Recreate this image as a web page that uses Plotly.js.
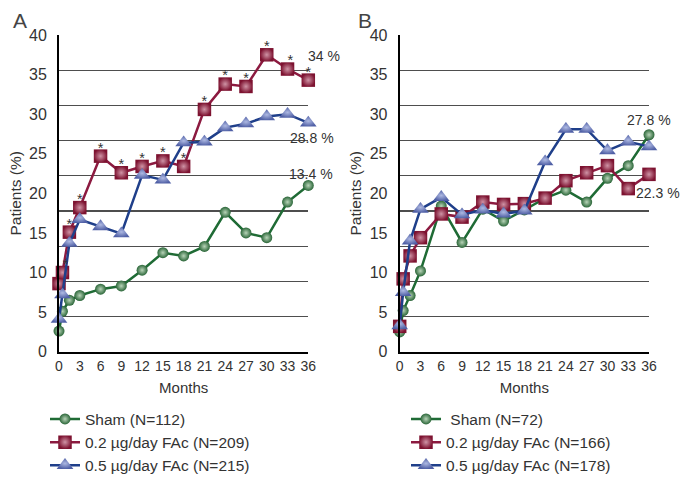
<!DOCTYPE html>
<html>
<head>
<meta charset="utf-8">
<script src="https://cdn.plot.ly/plotly-3.0.1.min.js"></script>
<style>html,body{margin:0;padding:0;background:#fff;}#chart{width:686px;height:477px;}</style>
</head>
<body>
<div id="chart"></div>
<script>
// Months (visits)
const months = [0, 0.5, 1.5, 3, 6, 9, 12, 15, 18, 21, 24, 27, 30, 33, 36];
const monthTicks = [0, 3, 6, 9, 12, 15, 18, 21, 24, 27, 30, 33, 36];

// Panel A
const shamA = [2.6, 5.1, 6.5, 7.1, 7.9, 8.3, 10.3, 12.5, 12.1, 13.3, 17.6, 15.0, 14.4, 18.9, 21.0];
const low02A = [8.6, 10.0, 15.1, 18.2, 24.7, 22.6, 23.4, 24.1, 23.4, 30.6, 33.8, 33.5, 37.5, 35.7, 34.3];
const high05A = [4.1, 7.2, 13.7, 16.7, 15.8, 14.9, 22.3, 21.7, 26.4, 26.5, 28.3, 28.8, 29.7, 30.0, 28.9];
const starsA = ['', '*', '*', '*', '*', '*', '*', '*', '*', '*', '*', '*', '*', '*', '*'];

// Panel B
const shamB = [2.5, 5.2, 7.1, 10.2, 18.4, 13.8, 18.0, 16.5, 17.9, 19.4, 20.4, 18.9, 21.9, 23.5, 27.4];
const low02B = [3.2, 9.2, 12.1, 14.4, 17.4, 17.0, 18.9, 18.6, 18.7, 19.4, 21.6, 22.6, 23.5, 20.6, 22.4];
const high05B = [3.3, 7.5, 14.0, 18.0, 19.5, 17.3, 17.9, 17.4, 17.8, 24.0, 28.1, 28.1, 25.4, 26.5, 25.9];

const namesA = ['Sham (N=112)', '0.2 \u00b5g/day FAc (N=209)', '0.5 \u00b5g/day FAc (N=215)'];
const namesB = ['\u00a0Sham (N=72)', '0.2 \u00b5g/day FAc (N=166)', '0.5 \u00b5g/day FAc (N=178)'];

const FONT = 'Liberation Sans, Arial, sans-serif';
const TXT = '#333333';

const sGreen = {line: {color: '#1f6b35', width: 2.5},
  marker: {symbol: 'circle', size: 11, color: '#2a6638', gradient: {type: 'radial', color: '#b8d4b8'}, line: {width: 0}}};
const sRed = {line: {color: '#8c1a40', width: 2.5},
  marker: {symbol: 'square', size: 13.5, color: '#7d1230', gradient: {type: 'radial', color: '#cf93a5'}, line: {width: 0}}};
const sBlue = {line: {color: '#1f3f8a', width: 2.5},
  marker: {symbol: 'triangle-up', size: 14.5, color: '#5060a6', gradient: {type: 'radial', color: '#aeb9e2'}, line: {width: 0}}};

function tr(x, y, name, st, xa, ya, leg) {
  return {type: 'scatter', mode: 'lines+markers', x: x, y: y, name: name,
    line: st.line, marker: st.marker, xaxis: xa, yaxis: ya, legend: leg, cliponaxis: false, hoverinfo: 'x+y'};
}

const data = [
  {type: 'scatter', x: [], y: [], xaxis: 'x', yaxis: 'y2', showlegend: false, hoverinfo: 'skip'},
  {type: 'scatter', x: [], y: [], xaxis: 'x2', yaxis: 'y4', showlegend: false, hoverinfo: 'skip'},
  tr(months, shamA, namesA[0], sGreen, 'x', 'y', 'legend'),
  tr(months, low02A, namesA[1], sRed, 'x', 'y', 'legend'),
  tr(months, high05A, namesA[2], sBlue, 'x', 'y', 'legend'),
  {type: 'scatter', mode: 'text', x: months, y: low02A, text: starsA, xaxis: 'x', yaxis: 'y',
    textposition: ['top center', 'top right', 'top center', 'top center', 'top center', 'top center', 'top center',
      'top center', 'top center', 'top center', 'top center', 'top center', 'top center', 'top right', 'top center'],
    textfont: {family: FONT, size: 14.5, color: TXT}, showlegend: false, cliponaxis: false, hoverinfo: 'skip'},
  tr(months, shamB, namesB[0], sGreen, 'x2', 'y3', 'legend2'),
  tr(months, low02B, namesB[1], sRed, 'x2', 'y3', 'legend2'),
  tr(months, high05B, namesB[2], sBlue, 'x2', 'y3', 'legend2')
];

const H = 477, W = 686;
const yDom = [1 - 351.7 / H, 1 - 35 / H];
const xDomA = [59 / W, 308.3 / W];
const xDomB = [399.7 / W, 649 / W];

const xBase = {range: [0, 36], tickvals: monthTicks, ticktext: monthTicks.map(String), showgrid: false, zeroline: false,
  showline: true, linecolor: '#000', linewidth: 2, ticks: '', tickfont: {family: FONT, size: 14, color: TXT},
  title: {text: 'Months', font: {family: FONT, size: 15, color: TXT}, standoff: 10}};
const yBase = {range: [0, 40], dtick: 5, showgrid: false, zeroline: false, showline: true, linecolor: '#000', linewidth: 2,
  ticks: '', ticklabelstandoff: 7, tickfont: {family: FONT, size: 16, color: TXT}, domain: yDom,
  title: {text: 'Patients (%)', font: {family: FONT, size: 15.5, color: TXT}, standoff: 4}};
const yGrid = {range: [0, 45], dtick: 5, showgrid: true, gridcolor: '#4e4e4e', gridwidth: 1.2, zeroline: false,
  showticklabels: false, showline: false, ticks: '', domain: yDom};

const annFont = {family: FONT, size: 14, color: TXT};
const legTop = 1 - 402.4 / H;
const layout = {
  width: W, height: H, margin: {l: 0, r: 0, t: 0, b: 0, autoexpand: false},
  paper_bgcolor: '#fff', plot_bgcolor: 'rgba(0,0,0,0)',
  font: {family: FONT, color: TXT},
  xaxis: Object.assign({}, xBase, {domain: xDomA, anchor: 'y'}),
  yaxis: Object.assign({}, yBase, {anchor: 'x'}),
  yaxis2: Object.assign({}, yGrid, {anchor: 'x', overlaying: 'y'}),
  xaxis2: Object.assign({}, xBase, {domain: xDomB, anchor: 'y3'}),
  yaxis3: Object.assign({}, yBase, {anchor: 'x2'}),
  yaxis4: Object.assign({}, yGrid, {anchor: 'x2', overlaying: 'y3'}),
  legend: {x: 45 / W, y: legTop, xanchor: 'left', yanchor: 'top', bgcolor: 'rgba(0,0,0,0)',
    font: {family: FONT, size: 15.5, color: TXT}},
  legend2: {x: 406 / W, y: legTop, xanchor: 'left', yanchor: 'top', bgcolor: 'rgba(0,0,0,0)',
    font: {family: FONT, size: 15.5, color: TXT}},
  annotations: [
    {xref: 'paper', yref: 'paper', x: 11 / W, y: 1 - 21 / H, text: 'A', showarrow: false, xanchor: 'left', yanchor: 'middle',
      font: {family: FONT, size: 21, color: '#444'}},
    {xref: 'paper', yref: 'paper', x: 356 / W, y: 1 - 21 / H, text: 'B', showarrow: false, xanchor: 'left', yanchor: 'middle',
      font: {family: FONT, size: 21, color: '#444'}},
    {xref: 'x', yref: 'y', x: 35.7, y: 37.4, text: '34 %', showarrow: false, xanchor: 'left', yanchor: 'middle', font: annFont},
    {xref: 'x', yref: 'y', x: 33.1, y: 27.0, text: '28.8 %', showarrow: false, xanchor: 'left', yanchor: 'middle', font: annFont},
    {xref: 'x', yref: 'y', x: 32.9, y: 22.5, text: '13.4 %', showarrow: false, xanchor: 'left', yanchor: 'middle', font: annFont},
    {xref: 'x2', yref: 'y3', x: 32.5, y: 29.25, text: '27.8 %', showarrow: false, xanchor: 'left', yanchor: 'middle', font: annFont},
    {xref: 'x2', yref: 'y3', x: 33.9, y: 20.0, text: '22.3 %', showarrow: false, xanchor: 'left', yanchor: 'middle', font: annFont}
  ]
};

Plotly.newPlot('chart', data, layout, {displayModeBar: false, staticPlot: true});
</script>
</body>
</html>
